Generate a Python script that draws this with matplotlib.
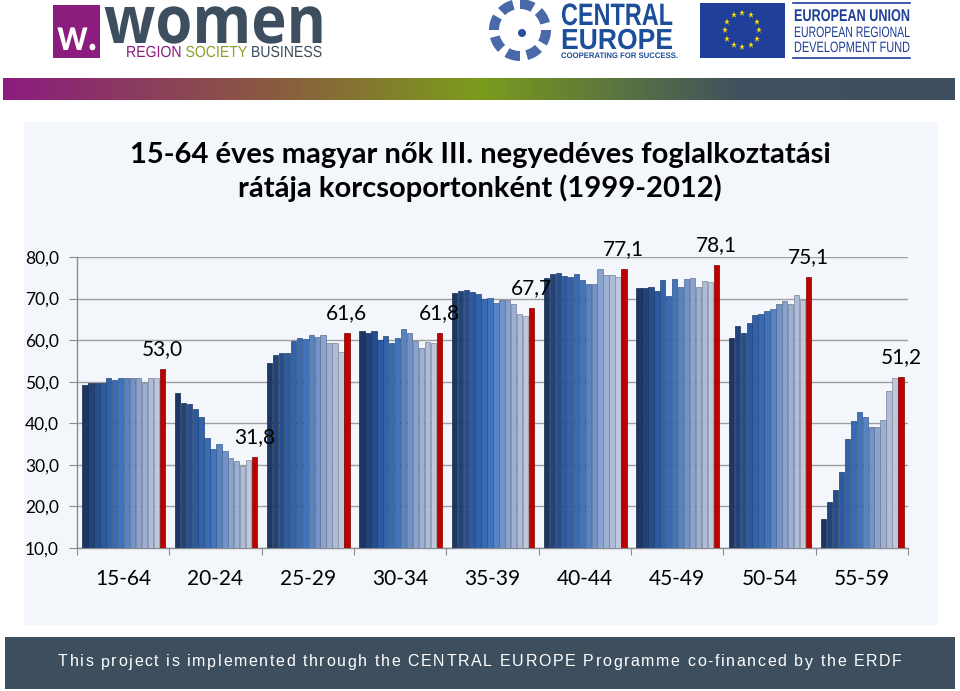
import numpy as np
import matplotlib
matplotlib.use('Agg')
import matplotlib.pyplot as plt
from matplotlib.patches import Rectangle, Wedge, Circle, PathPatch
from matplotlib.colors import LinearSegmentedColormap
from matplotlib.font_manager import FontProperties
from matplotlib.textpath import TextPath, text_to_path
from matplotlib.transforms import Affine2D

# ---- data ----
age_groups = ['15-64', '20-24', '25-29', '30-34', '35-39', '40-44', '45-49', '50-54', '55-59']
years = list(range(1999, 2013))
rate_15_64 = [49.2, 49.8, 49.8, 49.6, 51.0, 50.4, 51.0, 51.0, 51.0, 50.8, 49.8, 50.8, 50.8, 53.0]
rate_20_24 = [47.4, 45.0, 44.6, 43.4, 41.4, 36.4, 33.8, 35.0, 33.4, 31.6, 31.0, 29.8, 31.2, 31.8]
rate_25_29 = [54.4, 56.4, 57.0, 56.8, 59.8, 60.6, 60.2, 61.2, 60.8, 61.2, 59.4, 59.2, 57.2, 61.6]
rate_30_34 = [62.2, 61.6, 62.2, 60.0, 61.0, 59.2, 60.4, 62.6, 61.6, 59.8, 58.0, 59.6, 59.2, 61.8]
rate_35_39 = [71.4, 71.8, 72.0, 71.6, 71.2, 69.8, 70.2, 69.0, 69.6, 69.6, 68.8, 66.4, 65.8, 67.7]
rate_40_44 = [75.0, 76.0, 76.2, 75.4, 75.2, 76.0, 74.4, 73.6, 73.4, 77.0, 75.6, 75.6, 75.2, 77.1]
rate_45_49 = [72.5, 72.5, 72.7, 71.8, 74.5, 70.7, 74.6, 72.9, 74.8, 74.9, 72.7, 74.3, 74.1, 78.1]
rate_50_54 = [60.5, 63.4, 61.8, 64.2, 66.1, 66.2, 66.9, 67.5, 68.7, 69.5, 68.7, 70.9, 69.7, 75.1]
rate_55_59 = [17.0, 21.0, 24.0, 28.3, 36.2, 40.6, 42.6, 41.6, 39.0, 39.0, 40.8, 47.8, 51.0, 51.2]
rates = [rate_15_64, rate_20_24, rate_25_29, rate_30_34, rate_35_39,
         rate_40_44, rate_45_49, rate_50_54, rate_55_59]
y_ticks = [10, 20, 30, 40, 50, 60, 70, 80]

title = '15-64 éves magyar nők III. negyedéves foglalkoztatási\nrátája korcsoportonként (1999-2012)'
footer = 'This project is implemented through the CENTRAL EUROPE Programme co-financed by the ERDF'

FONT = ['Lato', 'DejaVu Sans']
W, H = 960, 691
fig = plt.figure(figsize=(W / 100, H / 100), dpi=100)
fig.patch.set_facecolor('white')

# overlay in pixel coordinates for the slide decoration
bg = fig.add_axes([0, 0, 1, 1])
bg.set_xlim(0, W)
bg.set_ylim(H, 0)
bg.axis('off')


def ctext(x, y, s, size, color, weight='normal', fam='Liberation Sans', width=None, sx=1.0):
    """Text drawn as a path; (x, y) = left/baseline in pixels. If width is given the
    text is squeezed/stretched horizontally to that width. Returns drawn width."""
    prop = FontProperties(family=fam, weight=weight)
    adv = text_to_path.get_text_width_height_descent(
        s, FontProperties(family=fam, weight=weight, size=size), ismath=False)[0]
    if width is not None:
        sx = width / adv
    tp = TextPath((0, 0), s, size=size, prop=prop)
    path = Affine2D().scale(sx, -1).translate(x, y).transform_path(tp)
    bg.add_patch(PathPatch(path, facecolor=color, edgecolor='none', zorder=3))
    return adv * sx


# header stripe gradient
stripe = LinearSegmentedColormap.from_list('stripe', [
    (0.0, '#8c1d7e'), (0.28, '#8a5a40'), (0.5, '#7c9c1c'), (0.78, '#3f5060'), (1.0, '#3d4f5e')])
grad = np.linspace(0, 1, 400).reshape(1, -1)
bg.imshow(grad, cmap=stripe, extent=(3, 955, 100, 78), aspect='auto', zorder=1)

# chart panel and footer
bg.add_patch(Rectangle((24, 122), 914, 503, facecolor='#f3f6fb', edgecolor='none', zorder=0))
bg.add_patch(Rectangle((5, 637), 950, 52, facecolor='#3d4f5e', edgecolor='none', zorder=1))

# --- logos (approximate) ---
bg.add_patch(Rectangle((53, 5), 47, 53, facecolor='#8c1d7e', edgecolor='none', zorder=2))
ctext(57, 50, 'w.', 44, 'white', 'bold', fam='Lato', width=40)
ctext(104, 43, 'women', 66, '#3d4f5e', 'bold', fam='Open Sans', width=222)
x0 = 126
for word, col in [('REGION ', '#8c1d7e'), ('SOCIETY ', '#8aa12a'), ('BUSINESS', '#3d4f5e')]:
    x0 += ctext(x0, 57, word, 16, col, sx=0.88)

# central europe swirl
for k in range(8):
    a = k * 45
    bg.add_patch(Wedge((520, 30), 31, a, a + 30, width=10, facecolor='#2a4f9a',
                       edgecolor='none', alpha=0.85, zorder=2))
bg.add_patch(Circle((522, 33), 4, facecolor='#2a4f9a', edgecolor='none', zorder=2))
ctext(561, 25, 'CENTRAL', 31, '#1d4e9a', 'bold', width=112)
ctext(561, 49, 'EUROPE', 29, '#1d4e9a', 'bold', width=112)
ctext(561, 58, 'COOPERATING FOR SUCCESS.', 8, '#1d4e9a', 'bold', width=117)

# EU flag
bg.add_patch(Rectangle((700, 3), 85, 55, facecolor='#1f3f98', edgecolor='none', zorder=2))
for k in range(12):
    ang = np.radians(90 - k * 30)
    bg.plot(742 + 17 * np.cos(ang), 30 - 17 * np.sin(ang), marker='*', color='#ffdd00',
            markersize=5, markeredgewidth=0, zorder=3)
bg.plot([793, 910], [3, 3], color='#1f3f98', lw=1.2, zorder=2)
bg.plot([793, 910], [58, 58], color='#1f3f98', lw=1.2, zorder=2)
ctext(794, 21, 'EUROPEAN UNION', 17, '#1f3f98', 'bold', width=116)
ctext(794, 37, 'EUROPEAN REGIONAL', 15, '#1f3f98', width=116)
ctext(794, 52, 'DEVELOPMENT FUND', 15, '#1f3f98', width=116)

# title
bg.text(480, 172, title, ha='center', va='center', fontsize=21, fontweight='bold',
        family=FONT, linespacing=1.32, zorder=3)

# footer with letter spacing
fp = FontProperties(family=['Liberation Sans', 'DejaVu Sans'], size=11.5)
widths = []
for ch in footer:
    w, h, d = text_to_path.get_text_width_height_descent(ch, fp, ismath=False)
    widths.append(w * 100 / 72)
left, right = 58, 902
gap = (right - left - sum(widths)) / (len(footer) - 1)
xx = left
for ch, w in zip(footer, widths):
    bg.text(xx, 662, ch, color='white', fontproperties=fp, ha='left', va='center', zorder=3)
    xx += w + gap

# ---- chart ----
ax_l, ax_r, ax_t, ax_b = 77, 908, 257, 548
ax = fig.add_axes([ax_l / W, 1 - ax_b / H, (ax_r - ax_l) / W, (ax_b - ax_t) / H])
ax.set_facecolor('none')

n = len(years)
step = 0.9 / n
bw = step * 0.9
blues = LinearSegmentedColormap.from_list('blues', ['#1c3766', '#2b5aa0', '#3f74bd', '#8aa3cf', '#bec8dc'])
for gi, vals in enumerate(rates):
    for yi, v in enumerate(vals):
        x = gi + 0.055 + step * (yi + 0.5)
        if yi == n - 1:
            fc, ec = '#c00000', '#7a0000'
        else:
            fc = blues(yi / (n - 2))
            ec = tuple(c * 0.7 for c in fc[:3])
        ax.bar(x, v - 10, bottom=10, width=bw, color=fc, edgecolor=ec, linewidth=0.5, zorder=3)
    last = vals[-1]
    ax.text(gi + 0.055 + step * (n - 0.5), last + 4.8, f'{last:.1f}'.replace('.', ','),
            ha='center', va='center', fontsize=15, family=FONT, zorder=4)

ax.set_xlim(0, len(age_groups))
ax.set_ylim(10, 80)
ax.set_yticks(y_ticks)
ax.set_yticklabels([f'{t:.1f}'.replace('.', ',') for t in y_ticks], fontsize=12.5, family=FONT)
ax.set_xticks(np.arange(len(age_groups) + 1))
ax.set_xticklabels([])
ax.set_xticks(np.arange(len(age_groups)) + 0.5, minor=True)
ax.set_xticklabels(age_groups, minor=True, fontsize=15, family=FONT)
ax.tick_params(axis='x', which='minor', length=0, pad=15)
ax.tick_params(axis='x', which='major', length=5, color='#8c8c8c', direction='out')
ax.tick_params(axis='y', length=6, color='#8c8c8c', direction='out', pad=7)
ax.grid(axis='y', color='#a0a0a0', linewidth=1.0, zorder=0)
ax.set_axisbelow(True)
for s in ['top', 'right']:
    ax.spines[s].set_visible(False)
for s in ['left', 'bottom']:
    ax.spines[s].set_color('#8c8c8c')
    ax.spines[s].set_linewidth(1.0)

fig.savefig('out.png', dpi=100)
